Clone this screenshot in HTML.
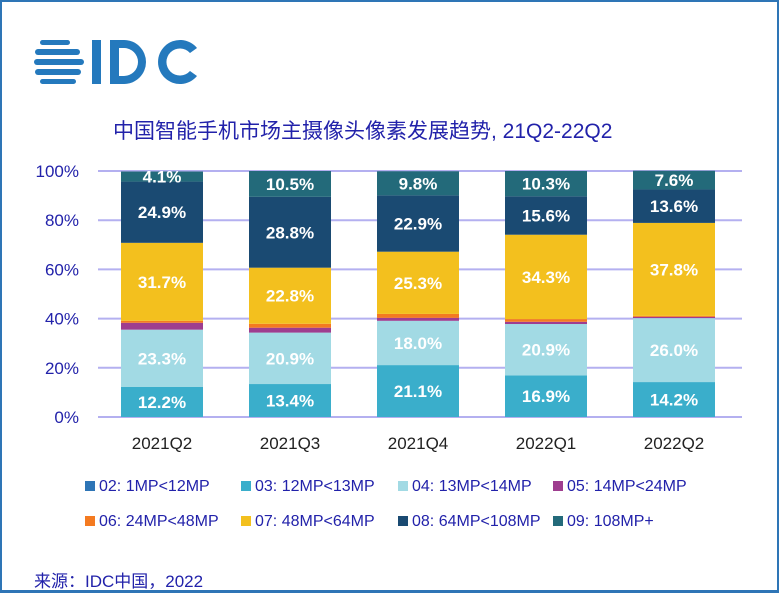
<!DOCTYPE html>
<html><head><meta charset="utf-8"><style>
body{margin:0;background:#fff;}
#wrap{position:relative;width:779px;height:593px;box-sizing:border-box;border:2px solid #2e75b6;border-bottom-width:3px;background:#fff;font-family:"Liberation Sans","Noto Sans CJK SC",sans-serif;overflow:hidden;}
.t{position:absolute;white-space:nowrap;}
</style></head><body>
<div id="wrap">
<svg width="779" height="593" style="position:absolute;left:-2px;top:-2px">
<g fill="#2479bd">
<rect x="40" y="40" width="30" height="5" rx="2.5"/>
<rect x="35" y="49" width="45" height="6" rx="3"/>
<rect x="34" y="59" width="50" height="6" rx="3"/>
<rect x="35" y="69" width="46" height="6" rx="3"/>
<rect x="40" y="79" width="36" height="5" rx="2.5"/>
<rect x="92" y="40" width="9" height="44"/>
<path d="M110 40 h14 a22 22 0 0 1 0 44 h-14 z M119 48 v28 h5 a14 14 0 0 0 0 -28 z" fill-rule="evenodd"/>
<path d="M197 48 a22 22 0 1 0 0 28 l-7 -5 a13.5 13.5 0 1 1 0 -18 z"/>
</g>
<g id="grid"></g><g id="bars"></g>
</svg>
<div class="t" style="left:111px;top:113px;font-size:21px;color:#2222aa;">中国智能手机市场主摄像头像素发展趋势, 21Q2-22Q2</div>
<div id="legend"></div>
<div class="t" style="left:32px;top:565px;font-size:17px;color:#2222aa;">来源：IDC中国，2022</div>
</div>
<script>
const categories=["2021Q2","2021Q3","2021Q4","2022Q1","2022Q2"];
const seriesNames=["02: 1MP<12MP","03: 12MP<13MP","04: 13MP<14MP","05: 14MP<24MP","06: 24MP<48MP","07: 48MP<64MP","08: 64MP<108MP","09: 108MP+"];
const s02=[0,0,0,0,0];
const s03=[12.2,13.4,21.1,16.9,14.2];
const s04=[23.3,20.9,18.0,20.9,26.0];
const s05=[2.8,2.0,1.2,0.9,0.5];
const s06=[0.8,1.6,1.6,1.1,0.4];
const s07=[31.7,22.8,25.3,34.3,37.8];
const s08=[24.9,28.8,22.9,15.6,13.6];
const s09=[4.1,10.5,9.8,10.3,7.6];
const yTicks=[0,20,40,60,80,100];
const series=[s02,s03,s04,s05,s06,s07,s08,s09];
const colors=["#2e75b6","#3aaecb","#a2dae4","#9e3d8f","#f47a20","#f3c01e","#1a4a72","#236a7a"];
const showLabel=[false,true,true,false,false,true,true,true];
const NS="http://www.w3.org/2000/svg";
const y=v=>417-v*2.46;
const xc=i=>162+i*128;
const bw=82;
const grid=document.getElementById('grid');
yTicks.forEach(t=>{
 const l=document.createElementNS(NS,'line');
 l.setAttribute('x1',98);l.setAttribute('x2',742);l.setAttribute('y1',y(t));l.setAttribute('y2',y(t));
 l.setAttribute('stroke','#b4b0f0');l.setAttribute('stroke-width','2');
 
 
 grid.appendChild(l);
 const tx=document.createElementNS(NS,'text');
 tx.setAttribute('x',79);tx.setAttribute('y',y(t)+6);tx.setAttribute('text-anchor','end');
 tx.setAttribute('font-size','17');tx.setAttribute('fill','#2222aa');tx.setAttribute('font-family','Liberation Sans, sans-serif');
 tx.textContent=t+'%';
 
 
 grid.appendChild(tx);
});
const bars=document.getElementById('bars');
categories.forEach((c,i)=>{
 let acc=0;
 series.forEach((s,k)=>{
  const v=s[i]; if(v<=0){return;}
  const r=document.createElementNS(NS,'rect');
  r.setAttribute('x',xc(i)-bw/2);r.setAttribute('width',bw);
  r.setAttribute('y',y(acc+v));r.setAttribute('height',v*2.46);
  r.setAttribute('fill',colors[k]);
  
  
  bars.appendChild(r);
  if(showLabel[k]){
   const tx=document.createElementNS(NS,'text');
   tx.setAttribute('x',xc(i));tx.setAttribute('y',y(acc+v/2)+6);tx.setAttribute('text-anchor','middle');
   tx.setAttribute('font-size','17');tx.setAttribute('font-weight','bold');tx.setAttribute('fill','#fff');tx.setAttribute('font-family','Liberation Sans, sans-serif');
   tx.textContent=v.toFixed(1)+'%';
   
   
   bars.appendChild(tx);
  }
  acc+=v;
 });
 const tx=document.createElementNS(NS,'text');
 tx.setAttribute('x',xc(i));tx.setAttribute('y',449);tx.setAttribute('text-anchor','middle');
 tx.setAttribute('font-size','17');tx.setAttribute('fill','#222');tx.setAttribute('font-family','Liberation Sans, sans-serif');
 tx.textContent=c;
 
 
 bars.appendChild(tx);
});
const lx=[83,239,396,551,83,239,396,551];
const ly=[476,476,476,476,511,511,511,511];
const lg=document.getElementById('legend');
seriesNames.forEach((n,k)=>{
 const d=document.createElement('div');
 d.className='t';
 d.style.cssText='left:'+lx[k]+'px;top:'+ly[k]+'px;font-size:16px;color:#2222aa;';
 d.innerHTML='<span style="display:inline-block;width:10px;height:10px;background:'+colors[k]+';margin-right:4px;"></span>'+n.replace(/</g,'&lt;');
 
 
 lg.appendChild(d);
});
</script>
</body></html>
